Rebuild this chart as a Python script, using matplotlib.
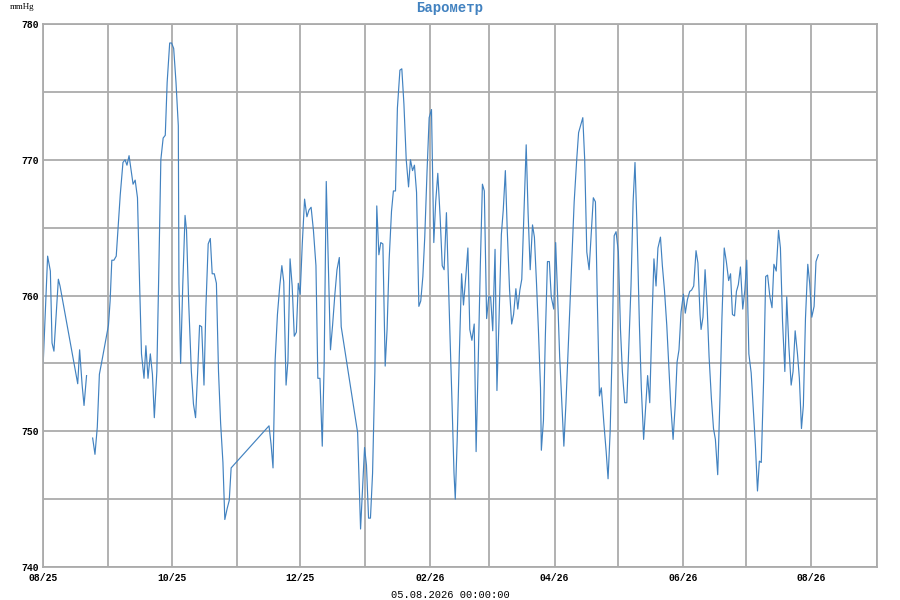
import numpy as np
import pandas as pd
import matplotlib
matplotlib.use("Agg")
import matplotlib.pyplot as plt
import matplotlib.dates as mdates

# pressure readings, days counted from 2025-08-01
START = "2025-08-01"
days = [
    0.0, 2.1, 3.4, 4.2, 5.1, 7.2, 8.0, 16.4, 17.3, 18.5, 19.4, 20.6,
    22.0,
    23.5, 24.6, 25.7, 26.7, 27.8, 31.0, 31.8, 32.6, 33.6, 34.7, 35.5,
    36.6, 37.9, 38.9, 39.8, 40.8, 41.8, 42.7, 43.7, 44.8, 45.8, 46.7,
    47.9, 48.8, 49.8, 50.9, 51.9, 52.8, 54.0, 54.8, 55.9, 57.0, 58.0,
    58.9, 60.1, 61.0, 62.0, 63.1, 64.2, 64.5, 65.3, 66.3, 67.4, 68.1,
    69.1, 70.4, 71.4, 72.4, 73.4, 74.3, 75.3, 76.4, 77.3, 78.4, 79.4,
    80.3, 81.3, 82.3, 83.3, 84.3, 85.4, 86.3, 87.4, 88.4, 89.3, 107.3,
    108.3, 109.2, 110.2, 111.3, 112.4, 113.4, 114.3, 115.4, 116.3, 117.3,
    118.3, 119.3, 120.3, 121.2, 122.1, 123.1, 124.2, 125.3, 126.3, 127.3,
    128.4, 129.6, 130.5, 131.5, 132.6, 133.5, 134.5, 135.5, 136.5, 137.5,
    138.6, 139.6, 140.7, 141.6, 149.4, 150.5, 150.8, 152.7, 153.6, 154.6,
    155.5, 156.5, 157.6, 158.5, 159.5, 160.4, 161.4, 162.5, 163.4, 164.4,
    165.5, 166.4, 167.4, 168.3, 169.5, 170.4, 171.4, 172.5, 173.6, 174.5,
    175.5, 176.4, 177.4, 178.5, 179.4, 180.4, 181.3, 182.4, 183.4, 184.5,
    185.6, 186.5, 187.5, 188.6, 189.6, 190.5, 191.6, 192.4, 193.3, 194.2,
    195.2, 195.8, 196.7, 197.7, 198.8, 199.7, 200.8, 201.8, 202.7, 203.7,
    204.8, 205.7, 206.6, 207.7, 208.7, 209.6, 210.7, 211.7, 212.6, 213.6,
    214.7, 215.6, 216.6, 217.7, 218.6, 219.6, 220.5, 221.6, 222.6, 223.5,
    224.6, 225.5, 226.5, 227.4, 228.4, 229.5, 230.4, 231.4, 232.5, 233.4,
    234.4, 235.3, 236.3, 236.7, 237.7, 238.6, 239.6, 240.5, 241.4, 242.6,
    243.5, 244.4, 245.4, 246.5, 247.4, 248.4, 249.3, 250.4, 251.4, 252.3,
    253.5, 254.4, 255.5, 256.4, 257.3, 258.3, 259.4, 260.3, 261.4, 262.4,
    263.3, 264.3, 265.2, 266.4, 267.5, 268.4, 269.4, 270.3, 271.3, 272.2,
    273.3, 274.3, 275.2, 276.3, 277.3, 278.2, 279.3, 280.3, 281.2, 282.2,
    283.3, 284.2, 285.3, 286.3, 287.2, 288.2, 289.3, 290.2, 291.2, 292.1,
    293.3, 294.2, 295.2, 296.3, 297.2, 298.2, 299.3, 300.3, 301.2, 302.1,
    303.1, 304.2, 305.1, 306.1, 307.2, 308.1, 309.1, 310.2, 311.1, 312.1,
    312.6, 313.5, 314.5, 315.5, 316.4, 317.5, 318.5, 319.4, 320.5, 321.6,
    322.5, 323.6, 324.6, 325.7, 326.6, 327.5, 328.5, 329.4, 330.3, 331.3,
    332.4, 333.4, 334.3, 335.3, 336.4, 337.3, 338.4, 339.4, 340.3, 341.2,
    342.3, 343.3, 344.2, 345.3, 346.3, 347.2, 348.3, 349.4, 350.3, 351.3,
    352.4, 353.3, 354.3, 355.4, 356.3, 357.3, 358.4, 359.3, 360.3, 361.2,
    362.2, 363.3, 364.2, 365.2, 366.3, 367.2, 368.3,
]
pressure = [
    755.0, 762.9, 761.8, 756.5, 755.9, 761.2, 760.7, 753.5, 756.0, 753.4, 751.9, 754.1,
    np.nan,
    749.5, 748.3, 750.3, 754.2, 755.1, 757.8, 759.6, 762.6, 762.6, 762.9, 764.8,
    767.4, 769.8, 770.0, 769.6, 770.3, 769.2, 768.2, 768.5, 767.2, 760.9, 755.7,
    753.9, 756.3, 753.9, 755.7, 754.2, 751.0, 754.4, 760.7, 770.0, 771.6, 771.8,
    775.7, 778.6, 778.6, 778.2, 775.7, 772.5, 760.9, 755.0, 760.7, 765.9, 764.8,
    759.6, 754.4, 752.0, 751.0, 754.4, 757.8, 757.7, 753.4, 759.1, 763.8, 764.2,
    761.6, 761.6, 760.9, 754.4, 750.6, 747.7, 743.5, 744.3, 744.9, 747.3, 750.4,
    749.0, 747.3, 755.2, 758.6, 760.7, 762.2, 761.0, 753.4, 755.2, 762.7,
    760.7, 757.0, 757.3, 760.9, 760.1, 763.8, 767.1, 765.8, 766.3, 766.5,
    764.8, 762.2, 753.9, 753.9, 748.9, 755.0, 768.4, 762.2, 756.0, 757.8,
    760.1, 761.9, 762.8, 757.7, 749.9, 744.4, 742.8, 748.8, 747.5, 743.6,
    743.6, 746.9, 754.4, 766.6, 763.0, 763.9, 763.8, 754.8, 757.5, 762.7,
    766.2, 767.7, 767.7, 773.8, 776.6, 776.7, 774.1, 770.0, 768.0, 770.0,
    769.2, 769.6, 767.6, 759.2, 759.6, 761.4, 764.3, 769.2, 773.1, 773.7,
    763.9, 766.9, 769.0, 765.8, 762.2, 761.9, 766.1, 761.7, 757.0, 752.4,
    746.9, 745.0, 749.3, 755.5, 761.6, 759.3, 761.4, 763.5, 757.5, 756.7,
    757.9, 748.5, 754.4, 762.2, 768.2, 767.7, 758.3, 759.9, 759.9, 757.4,
    763.4, 753.0, 758.3, 764.5, 766.3, 769.2, 764.8, 760.4, 757.9, 758.6,
    760.5, 759.0, 760.4, 761.2, 765.8, 771.1, 766.1, 761.9, 765.2, 764.3,
    760.9, 757.5, 753.2, 748.6, 750.8, 757.0, 762.5, 762.5, 759.9, 759.0,
    763.9, 760.1, 755.5, 751.9, 748.9, 752.1, 755.5, 759.6, 763.5, 766.9,
    770.0, 772.0, 772.6, 773.1, 770.0, 763.2, 761.9, 764.3, 767.2, 766.9,
    759.6, 752.6, 753.2, 750.6, 748.5, 746.5, 750.0, 755.7, 764.4, 764.7,
    763.2, 757.5, 754.4, 752.1, 752.1, 756.0, 760.7, 766.9, 769.8, 764.8,
    757.8, 753.2, 749.4, 751.9, 754.1, 752.1, 758.3, 762.7, 760.7, 763.5,
    764.3, 762.2, 760.4, 757.8, 755.0, 751.9, 749.4, 751.9, 755.1, 756.0,
    758.8, 760.1, 758.7, 759.7, 760.3, 760.4, 760.7, 763.3, 762.4, 758.6,
    757.5, 758.4, 761.9, 759.1, 755.5, 752.4, 750.2, 749.4, 746.8, 752.6,
    758.3, 763.5, 762.5, 761.1, 761.6, 758.6, 758.5, 760.3, 760.8, 762.1,
    759.0, 760.4, 762.6, 755.7, 754.3, 751.9, 749.0, 745.6, 747.8, 747.7,
    753.7, 761.4, 761.5, 759.9, 759.1, 762.3, 761.8, 764.8, 763.5, 758.1,
    754.4, 759.9, 756.3, 753.4, 754.4, 757.4, 755.7, 753.9, 750.2, 751.9,
    758.3, 762.3, 760.9, 758.4, 759.2, 762.5, 763.0,
]

title = "Барометр"
unit = "mmHg"
stamp = "05.08.2026 00:00:00"

times = pd.Timestamp(START) + pd.to_timedelta(days, unit="D")

fig = plt.figure(figsize=(9, 6), dpi=100)
ax = fig.add_axes([0.048, 0.055, 0.926, 0.905])

ax.plot(times, pressure, color="#4282c0", linewidth=0.85)

ax.set_xlim(pd.Timestamp("2025-08-01"), pd.Timestamp("2026-09-01"))
ax.set_ylim(740, 780)

ax.xaxis.set_minor_locator(mdates.MonthLocator())
ax.xaxis.set_major_locator(mdates.MonthLocator(bymonth=[2, 4, 6, 8, 10, 12]))
ax.xaxis.set_major_formatter(mdates.DateFormatter("%m/%y"))
ax.set_yticks([740, 750, 760, 770, 780])
ax.set_yticks([745, 755, 765, 775], minor=True)

grid_c = "#ababab"
ax.grid(which="both", color=grid_c, linewidth=1.3)
ax.set_axisbelow(True)
for s in ax.spines.values():
    s.set_color(grid_c)
    s.set_linewidth(1.3)

ax.tick_params(which="both", length=0)
ax.tick_params(axis="x", pad=4.5)
ax.tick_params(axis="y", pad=3)
for lab in ax.get_xticklabels() + ax.get_yticklabels():
    lab.set_fontfamily("Liberation Mono")
    lab.set_fontweight("bold")
    lab.set_fontsize(7)

fig.text(0.5, 0.986, title, ha="center", va="center", color="#4282c0",
         fontsize=10, fontfamily="Liberation Mono", fontweight="bold")
fig.text(0.011, 0.988, unit, ha="left", va="center", fontsize=6.5,
         fontfamily="Liberation Serif")
fig.text(0.5, 0.008, stamp, ha="center", va="center", fontsize=7.5,
         fontfamily="Liberation Mono")

fig.savefig("out.png", dpi=100)
